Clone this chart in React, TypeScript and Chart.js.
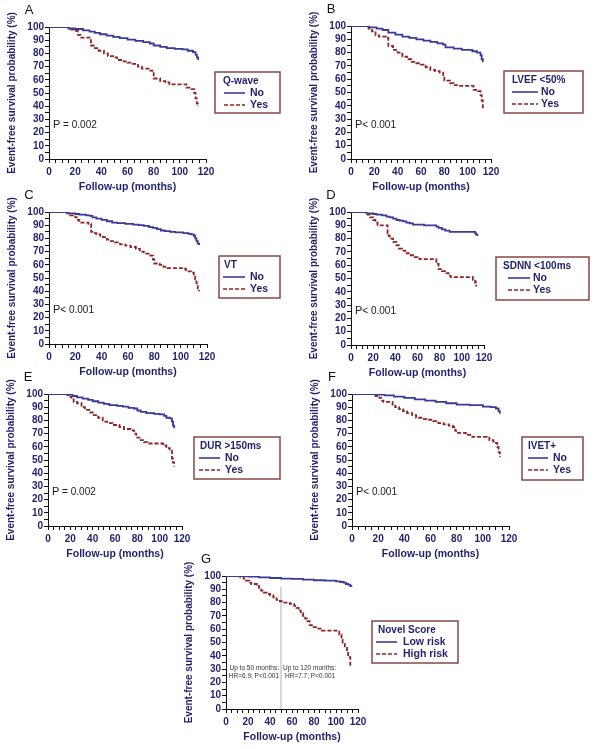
import React, { useEffect, useRef } from "react";
import { Chart, registerables } from "chart.js";

Chart.register(...registerables);

type Pt = [number, number];

// ---- Data (months, event-free survival %) ----
const qwaveNo: Pt[] = [[0,100],[12,100],[15,99],[20,98.5],[26,97.5],[31,96.5],[35,95.5],[39,94.5],[44,93.5],[49,92.5],[54,91.5],[60,90.5],[66,89.5],[72,88.5],[77,87.5],[80,86],[85,85],[90,84],[96,83.5],[102,83],[106,82],[110,81],[112,79],[113,77],[114,75]];
const qwaveYes: Pt[] = [[0,100],[13,100],[15,98],[19,97],[22,94],[24,92],[30,92],[32,86],[35,84],[38,82],[42,80],[45,78],[49,77],[52,75],[56,74],[60,73],[64,72],[68,70],[71,68.5],[76,67],[79,66],[80,61],[85,59],[89,58],[92,56.5],[103,56.5],[105,54],[109,53],[111,50],[112,46],[113,42],[114,40]];

const lvefNo: Pt[] = [[0,100],[12,100],[16,99],[22,98],[27,97],[32,95],[38,93.5],[44,92],[50,91],[56,90],[62,89],[68,88],[74,87],[79,86],[81,84],[88,83],[95,82],[104,81],[108,80],[111,78],[112,75],[113,73]];
const lvefYes: Pt[] = [[0,100],[13,100],[15,98],[18,96],[21,93],[24,92],[30,91],[32,85],[36,82],[40,80],[44,77],[48,75],[52,73],[56,72],[60,71],[64,69],[68,67],[72,66],[76,65],[79,63],[80,59],[85,57],[88,55.5],[92,55],[103,55],[105,52],[109,51],[111,48],[112,44],[113,38]];

const vtNo: Pt[] = [[0,100],[12,100],[14,99],[20,98.5],[23,98],[28,97.5],[31,97],[33,96],[36,95],[40,94],[44,93],[48,92],[52,91.5],[58,91],[64,90.5],[68,90],[72,89.5],[76,88.5],[79,88],[82,87],[85,86],[88,85.5],[92,85],[96,84.5],[102,84],[106,83.5],[108,83],[110,82],[111,80],[112,78],[113,76],[114,75]];
const vtYes: Pt[] = [[0,100],[12,100],[14,99],[16,97.5],[20,96],[22,94],[23,92],[30,91],[32,85],[34,84],[36,83],[39,82],[41,81],[44,79],[46,78],[50,77],[54,75.5],[58,74.5],[62,73.5],[66,72],[69,70],[72,68.5],[77,67],[79,64],[80,61],[84,60],[87,58.5],[90,57.5],[102,57],[104,55],[108,54],[110,52],[111,49],[112,46],[113,42],[114,40]];

const sdnnNo: Pt[] = [[0,100],[12,100],[14,99],[20,98.5],[23,98],[28,97.5],[32,96.5],[35,96],[38,95],[41,94],[44,93.5],[47,93],[50,92],[53,91.5],[56,90.5],[66,90],[75,90],[77,89],[79,88],[82,87],[85,86],[89,85],[110,85],[112,84],[113,83],[114,82]];
const sdnnYes: Pt[] = [[0,100],[13,100],[15,98],[17,96],[20,94],[22,92],[24,90],[31,90],[33,84],[34,82],[35,80],[38,77.5],[41,75],[43,72.5],[46,71],[49,69],[52,67.5],[56,66],[60,65],[62,64.5],[75,64.5],[77,61],[79,57],[82,55.5],[86,54],[88,52],[90,51],[108,51],[110,49],[112,47],[113,44]];

const durNo: Pt[] = [[0,100],[14,100],[17,99.5],[22,98.5],[26,97.5],[31,96.5],[36,95.5],[40,94.5],[45,93.5],[50,92.5],[55,91.5],[62,91],[67,90.5],[72,89.5],[77,89],[80,87.5],[83,86.5],[88,85.5],[95,85],[100,84.5],[104,83.5],[106,82],[109,81.5],[111,79],[112,76],[113,74]];
const durYes: Pt[] = [[0,100],[15,100],[18,98],[21,96],[23,94],[26,93],[30,90],[33,88],[37,86],[41,84],[45,82],[49,79],[53,78],[58,76.5],[64,75],[68,73.5],[74,72.5],[77,70],[79,67],[82,65],[86,63.5],[89,62.5],[100,62.5],[103,61],[106,59],[109,57],[111,51],[112,48],[113,45]];

const ivetNo: Pt[] = [[0,100],[14,100],[18,99.5],[25,99],[32,98],[40,97],[48,96],[56,95],[64,94],[72,93],[80,92],[90,91.5],[100,90.5],[106,90],[110,89],[112,87],[113,85]];
const ivetYes: Pt[] = [[0,100],[15,100],[18,98.5],[21,97],[23,95],[24,94],[29,94],[31,92],[33,90],[36,88.5],[39,87],[42,85.5],[46,84],[49,82],[53,81],[57,80.5],[62,79.5],[66,78],[70,77],[74,76],[77,75],[79,72],[81,70.5],[87,69],[92,67.5],[103,67],[105,65],[108,64],[110,63],[111,60],[112,56],[113,52]];

const scoreLow: Pt[] = [[0,100],[15,100],[20,99.5],[30,99],[40,98.5],[50,98],[60,97.8],[70,97.3],[80,96.8],[90,96.5],[100,96],[104,95.5],[107,95],[109,94],[111,93.5],[113,92.5],[114,92]];
const scoreHigh: Pt[] = [[0,100],[10,100],[13,99],[16,98],[18,96.5],[21,95],[23,94],[28,93.5],[30,91],[32,89],[34,87.5],[37,86.5],[40,85.5],[43,84],[46,82],[49,81],[53,80],[58,79],[62,77.5],[64,76],[66,74],[68,72],[70,70],[72,68],[74,66],[76,63],[78,61.5],[83,60.5],[87,59],[102,59],[103,56],[105,52],[106,49],[108,46],[110,43],[111,39],[113,32]];

const cutoffLine: Pt[] = [[50,0],[50,92]];

const panelLetters = ["A", "B", "C", "D", "E", "F", "G"];
const legendTitles = ["Q-wave", "LVEF <50%", "VT", "SDNN <100ms", "DUR >150ms", "IVET+", "Novel Score"];
const groupLabels = [["No", "Yes"], ["No", "Yes"], ["No", "Yes"], ["No", "Yes"], ["No", "Yes"], ["No", "Yes"], ["Low risk", "High risk"]];
const pValueLabels = ["P = 0.002", "P< 0.001", "P< 0.001", "P< 0.001", "P = 0.002", "P< 0.001", ""];
const curves: Pt[][][] = [[qwaveNo, qwaveYes], [lvefNo, lvefYes], [vtNo, vtYes], [sdnnNo, sdnnYes], [durNo, durYes], [ivetNo, ivetYes], [scoreLow, scoreHigh]];
const notesLeft = ["Up to 50 months:", "HR=6.9; P<0.001"];
const notesRight = ["Up to 120 months:", "HR=7.7; P<0.001"];
const xAxisTitle = "Follow-up (months)";
const yAxisTitle = "Event-free survival probability (%)";

// ---- Layout (page pixel positions) ----
const FONT = "'Liberation Sans', Arial, Helvetica, sans-serif";
const NAVY = "#1f1f6e";
const BLUE = "#3a3a98";
const RED = "#8e2424";
const BOXC = "#8a4646";

const layouts = [
  { L: 49, T: 27, R: 206, B: 159, box: [215, 72, 280, 113], titleX: 8, lineX: 9, lineLen: 21, textX: 35 },
  { L: 351, T: 26, R: 491, B: 159, box: [504, 71, 583, 113], titleX: 8, lineX: 8, lineLen: 26, textX: 37 },
  { L: 49, T: 212, R: 207, B: 344, box: [219, 256, 280, 298], titleX: 5, lineX: 4, lineLen: 22, textX: 31 },
  { L: 351, T: 212, R: 484, B: 345, box: [496, 257, 589, 300], titleX: 7, lineX: 12, lineLen: 22, textX: 37 },
  { L: 48, T: 394, R: 182, B: 526, box: [194, 437, 280, 479], titleX: 6, lineX: 5, lineLen: 21, textX: 31 },
  { L: 352, T: 394, R: 509, B: 526, box: [522, 437, 583, 480], titleX: 6, lineX: 6, lineLen: 20, textX: 31 },
  { L: 226, T: 576, R: 358, B: 709, box: [372, 621, 458, 663], titleX: 6, lineX: 4, lineLen: 21, textX: 31 },
];

const toXY = (a: Pt[]) => a.map(([x, y]) => ({ x, y }));

function makeDeco(i: number) {
  return {
    id: "deco" + i,
    afterDraw(chart: any) {
      const { ctx, chartArea, scales } = chart;
      const lay = layouts[i];
      const ox = lay.L - 49;
      const oy = lay.T - 27;
      ctx.save();
      ctx.textBaseline = "middle";
      // panel letter
      ctx.fillStyle = "#111";
      ctx.font = `13px ${FONT}`;
      ctx.textAlign = "center";
      ctx.fillText(panelLetters[i], chartArea.left - 20, chartArea.top - 17);
      // p value
      const p = pValueLabels[i];
      if (p) {
        const px = scales.x.getPixelForValue(0) + 4;
        const py = scales.y.getPixelForValue(25.5);
        ctx.textAlign = "left";
        ctx.fillStyle = "#1a1a1a";
        ctx.font = `11px ${FONT}`;
        ctx.fillText(p[0], px, py);
        const w = ctx.measureText(p[0]).width;
        ctx.font = `10px ${FONT}`;
        ctx.fillText(p.slice(1), px + w, py);
      }
      // notes (panel G)
      if (i === 6) {
        const xc = scales.x.getPixelForValue(50);
        const y1 = scales.y.getPixelForValue(30.8);
        const y2 = scales.y.getPixelForValue(24.8);
        ctx.fillStyle = "#333";
        ctx.font = `6.5px ${FONT}`;
        ctx.textAlign = "right";
        ctx.fillText(notesLeft[0], xc - 2, y1);
        ctx.fillText(notesLeft[1], xc - 2, y2);
        ctx.textAlign = "left";
        ctx.fillText(notesRight[0], xc + 2, y1);
        ctx.fillText(notesRight[1], xc + 4, y2);
      }
      // legend
      const [x0, y0, x1, y1b] = lay.box;
      const bx = x0 - ox;
      const by = y0 - oy;
      ctx.fillStyle = "#fff";
      ctx.fillRect(bx, by, x1 - x0, y1b - y0);
      ctx.strokeStyle = BOXC;
      ctx.lineWidth = 1.5;
      ctx.strokeRect(bx, by, x1 - x0, y1b - y0);
      ctx.fillStyle = NAVY;
      ctx.font = `bold 10px ${FONT}`;
      ctx.textAlign = "left";
      ctx.fillText(legendTitles[i], bx + lay.titleX, by + 9);
      chart.data.datasets.slice(0, 2).forEach((ds: any, k: number) => {
        const ly = by + 21 + 12 * k;
        ctx.beginPath();
        ctx.strokeStyle = ds.borderColor;
        ctx.lineWidth = 1.6;
        ctx.setLineDash(ds.borderDash || []);
        ctx.moveTo(bx + lay.lineX, ly);
        ctx.lineTo(bx + lay.lineX + lay.lineLen, ly);
        ctx.stroke();
        ctx.setLineDash([]);
        ctx.fillStyle = NAVY;
        ctx.font = `bold 10.5px ${FONT}`;
        ctx.fillText(ds.label, bx + lay.textX, ly + 0.5);
      });
      ctx.restore();
    },
  };
}

function Panel({ i }: { i: number }) {
  const ref = useRef<HTMLCanvasElement>(null);
  const lay = layouts[i];
  const cl = lay.L - 49;
  const ct = lay.T - 27;
  const cw = lay.box[2] + 8 - cl;
  const ch = lay.B - lay.T + 63;

  useEffect(() => {
    const datasets: any[] = [
      {
        label: groupLabels[i][0],
        data: toXY(curves[i][0]),
        borderColor: BLUE,
        borderWidth: 1.8,
        pointRadius: 0,
        stepped: "before",
        fill: false,
      },
      {
        label: groupLabels[i][1],
        data: toXY(curves[i][1]),
        borderColor: RED,
        borderWidth: 1.8,
        borderDash: [4, 2],
        pointRadius: 0,
        stepped: "before",
        fill: false,
      },
    ];
    if (i === 6) {
      datasets.push({
        label: "cutoff",
        data: toXY(cutoffLine),
        borderColor: "#b0b0b0",
        borderWidth: 1,
        pointRadius: 0,
        fill: false,
      });
    }
    const tickFont = { family: FONT, size: 10, weight: "bold" as const };
    const chart = new Chart(ref.current as HTMLCanvasElement, {
      type: "line",
      data: { datasets },
      options: {
        responsive: false,
        animation: false,
        events: [],
        layout: { padding: { left: 0, top: 27, right: cw - (lay.R - cl), bottom: 0 } },
        plugins: { legend: { display: false }, tooltip: { enabled: false } },
        scales: {
          x: {
            type: "linear",
            min: 0,
            max: 120,
            afterFit: (s: any) => {
              s.height = 36;
              s.paddingLeft = 0;
              s.paddingRight = 0;
            },
            ticks: {
              stepSize: 5,
              autoSkip: false,
              maxRotation: 0,
              padding: 3,
              color: NAVY,
              font: tickFont,
              callback: (v: any) => (Number(v) % 20 === 0 ? String(v) : ""),
            },
            grid: { drawOnChartArea: false, drawTicks: true, tickLength: 4, color: "#111", tickColor: "#111" },
            border: { display: true, color: "#111", width: 1 },
            title: {
              display: true,
              text: xAxisTitle,
              color: NAVY,
              font: { family: FONT, size: 10.5, weight: "bold" },
              padding: { top: 0, bottom: 2 },
            },
          },
          y: {
            type: "linear",
            min: 0,
            max: 100,
            afterFit: (s: any) => {
              s.width = 49;
            },
            ticks: {
              stepSize: 5,
              autoSkip: false,
              padding: 1,
              color: NAVY,
              font: tickFont,
              callback: (v: any) => (Number(v) % 10 === 0 ? String(v) : ""),
            },
            grid: { drawOnChartArea: false, drawTicks: true, tickLength: 4, color: "#111", tickColor: "#111" },
            border: { display: true, color: "#111", width: 1 },
            title: {
              display: true,
              text: yAxisTitle,
              color: NAVY,
              font: { family: FONT, size: 10, weight: "bold" },
              padding: { top: 6, bottom: 0 },
            },
          },
        },
      } as any,
      plugins: [makeDeco(i)],
    });
    return () => chart.destroy();
  }, []);

  return (
    <canvas
      ref={ref}
      width={cw}
      height={ch}
      style={{ position: "absolute", left: cl, top: ct, width: cw, height: ch }}
    />
  );
}

export default function App() {
  return (
    <div style={{ position: "absolute", left: 0, top: 0, width: 600, height: 749, background: "#fff", overflow: "hidden" }}>
      {layouts.map((_, i) => (
        <Panel key={i} i={i} />
      ))}
    </div>
  );
}
